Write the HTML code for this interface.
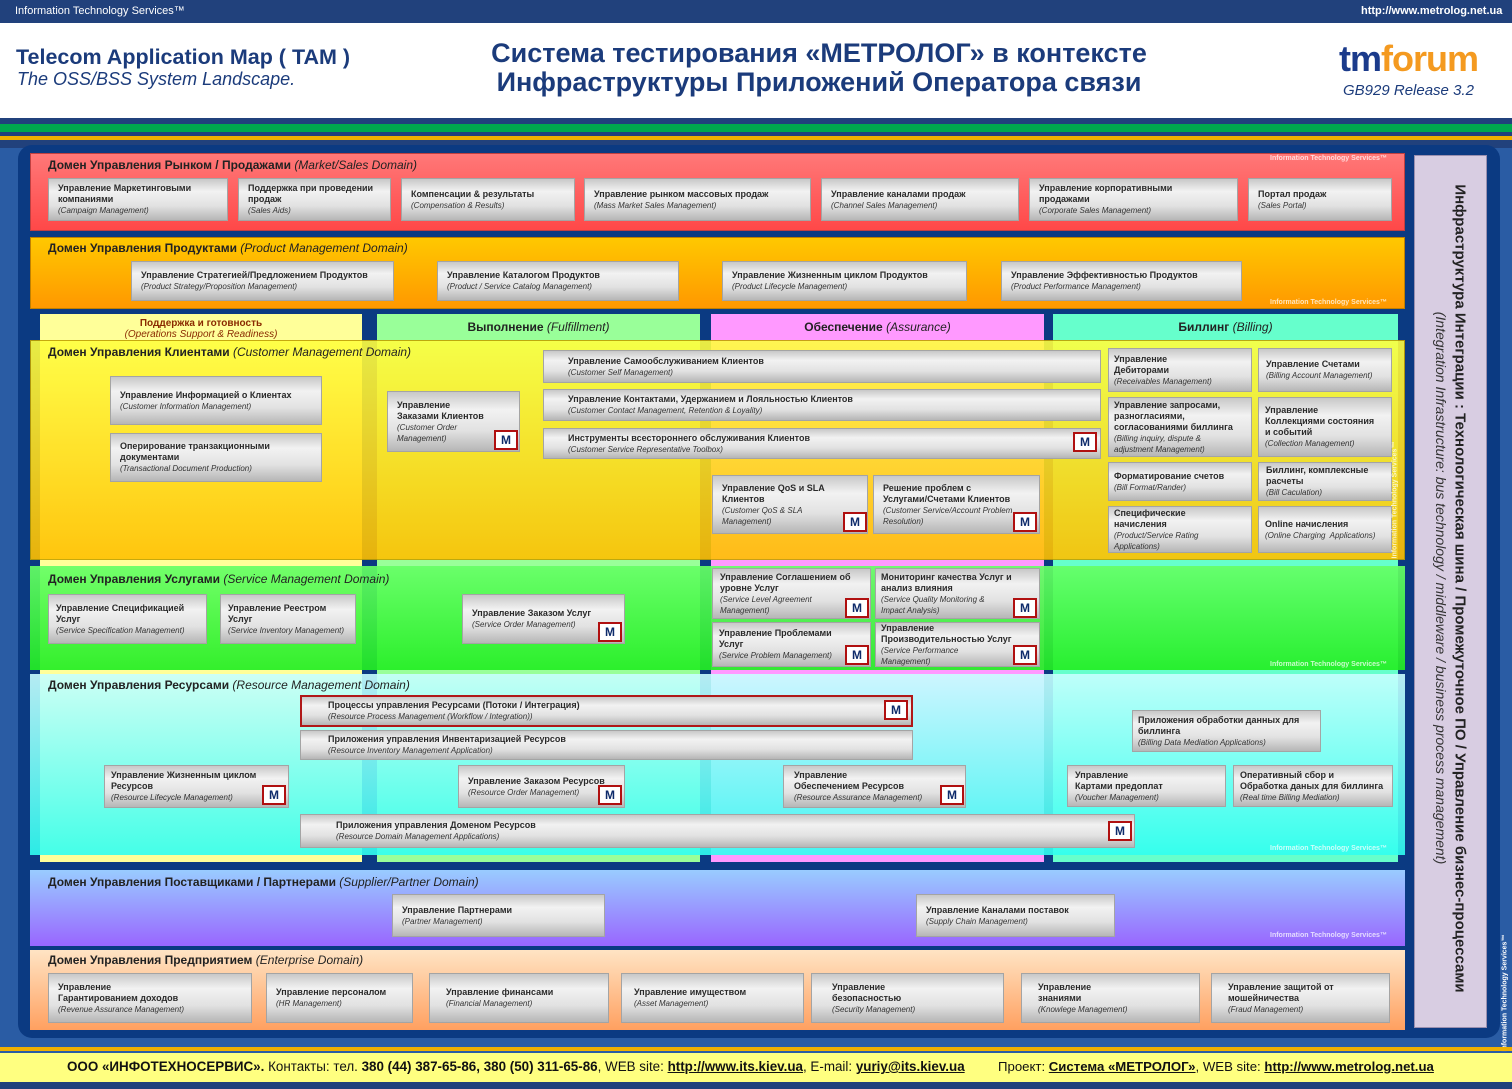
<!DOCTYPE html>
<html><head><meta charset="utf-8">
<style>
*{margin:0;padding:0;box-sizing:border-box}
body{width:1512px;height:1089px;position:relative;overflow:hidden;background:#2a5ca4;font-family:"Liberation Sans","DejaVu Sans",sans-serif}
.a{position:absolute}
.b{position:absolute;background:linear-gradient(#c8c8c8,#f2f2f2 30%,#e2e2e2 65%,#b6b6b6);border:1px solid #a4a4a4;font-size:9px;font-weight:bold;color:#2a2a2a;padding:4px 9px;line-height:11px;display:flex;flex-direction:column;justify-content:center}
.b i{font-weight:normal;font-size:8px;color:#333;line-height:11px}
.m{position:absolute;width:24px;height:20px;background:#fff;border:2px solid #b01010;color:#0d2a6a;font-weight:bold;font-size:12px;text-align:center;line-height:16px}
.dt{position:absolute;font-size:12px;font-weight:bold;color:#222}
.dt i{font-weight:normal}
.its{position:absolute;font-size:7px;font-weight:bold;color:rgba(255,255,255,.75)}
</style></head><body>
<!-- top -->
<div class="a" style="left:0;top:0;width:1512px;height:23px;background:#21417c"></div>
<div class="a" style="left:15px;top:5px;font-size:11px;color:#fff">Information Technology Services™</div>
<div class="a" style="left:1361px;top:5px;font-size:11px;color:#fff;font-weight:bold">http://www.metrolog.net.ua</div>
<div class="a" style="left:0;top:23px;width:1512px;height:95px;background:#fff"></div>
<div class="a" style="left:16px;top:45px;font-size:21.5px;font-weight:bold;color:#1b3b7b">Telecom Application Map ( TAM )</div>
<div class="a" style="left:17px;top:69px;font-size:18px;font-style:italic;color:#1b3b7b">The OSS/BSS System Landscape.</div>
<div class="a" style="left:440px;top:39px;width:758px;text-align:center;font-size:27px;font-weight:bold;color:#1b3b7b;line-height:29px">Система тестирования «МЕТРОЛОГ» в контексте<br>Инфраструктуры Приложений Оператора связи</div>
<div class="a" style="left:1339px;top:38px;font-size:36px;font-weight:bold;letter-spacing:-1px"><span style="color:#1b3b8b">tm</span><span style="color:#f49a20">forum</span></div>
<div class="a" style="left:1343px;top:82px;font-size:15px;font-style:italic;color:#1b3b7b">GB929 Release 3.2</div>
<div class="a" style="left:0;top:118px;width:1512px;height:30px;background:#21417c"></div>
<div class="a" style="left:0;top:124px;width:1512px;height:8px;background:#00a84e"></div>
<div class="a" style="left:0;top:136px;width:1512px;height:4px;background:#f0b000"></div>
<div class="a" style="left:0;top:148px;width:1512px;height:900px;background:#2a5ca4"></div>
<div class="a" style="left:18px;top:145px;width:1482px;height:893px;background:#0b3a82;border-radius:14px"></div>

<!-- column strips -->
<div class="a" style="left:40px;top:314px;width:322px;height:548px;background:#ffff99"></div>
<div class="a" style="left:377px;top:314px;width:323px;height:548px;background:#99ff99"></div>
<div class="a" style="left:711px;top:314px;width:333px;height:548px;background:#ff99ff"></div>
<div class="a" style="left:1053px;top:314px;width:345px;height:548px;background:#66ffcc"></div>
<div class="a" style="left:40px;top:318px;width:322px;text-align:center;font-size:10px;line-height:11px;color:#8a2a00;font-weight:bold">Поддержка и готовность<br><i style="font-weight:normal">(Operations Support &amp; Readiness)</i></div>
<div class="dt" style="left:377px;top:320px;width:323px;text-align:center">Выполнение <i>(Fulfillment)</i></div>
<div class="dt" style="left:711px;top:320px;width:333px;text-align:center">Обеспечение <i>(Assurance)</i></div>
<div class="dt" style="left:1053px;top:320px;width:345px;text-align:center">Биллинг <i>(Billing)</i></div>

<!-- domains -->
<div class="a" style="left:30px;top:153px;width:1375px;height:78px;background:linear-gradient(#ff7878,#ff4848);border:1px solid #c04040"></div>
<div class="dt" style="left:48px;top:158px">Домен Управления Рынком / Продажами <i>(Market/Sales Domain)</i></div>
<div class="its" style="left:1270px;top:155px">Information Technology Services™</div>
<div class="a" style="left:30px;top:237px;width:1375px;height:72px;background:linear-gradient(#ffc800,#ff9800);border:1px solid #c08000"></div>
<div class="dt" style="left:48px;top:241px">Домен Управления Продуктами <i>(Product Management Domain)</i></div>
<div class="its" style="left:1270px;top:299px">Information Technology Services™</div>

<div class="a" style="left:30px;top:340px;width:1375px;height:220px;background:linear-gradient(#ffff40,#ffc000);opacity:.9;border:1px solid #c0a000"></div>
<div class="dt" style="left:48px;top:345px">Домен Управления Клиентами <i>(Customer Management Domain)</i></div>
<div class="a" style="left:30px;top:566px;width:1375px;height:104px;background:linear-gradient(#66ff66,#22ee22);opacity:.92"></div>
<div class="dt" style="left:48px;top:572px">Домен Управления Услугами <i>(Service Management Domain)</i></div>
<div class="its" style="left:1270px;top:661px">Information Technology Services™</div>
<div class="a" style="left:30px;top:674px;width:1375px;height:181px;background:linear-gradient(#c8ffff,#30fff0);opacity:.9"></div>
<div class="dt" style="left:48px;top:678px">Домен Управления Ресурсами <i>(Resource Management Domain)</i></div>
<div class="its" style="left:1270px;top:845px">Information Technology Services™</div>
<div class="a" style="left:30px;top:870px;width:1375px;height:76px;background:linear-gradient(#99ccff,#9966ff)"></div>
<div class="dt" style="left:48px;top:875px">Домен Управления Поставщиками / Партнерами <i>(Supplier/Partner Domain)</i></div>
<div class="its" style="left:1270px;top:932px">Information Technology Services™</div>
<div class="a" style="left:30px;top:950px;width:1375px;height:80px;background:linear-gradient(#ffe4c4,#ffa060)"></div>
<div class="dt" style="left:48px;top:953px">Домен Управления Предприятием <i>(Enterprise Domain)</i></div>

<!-- right panel -->
<div class="a" style="left:1414px;top:155px;width:73px;height:873px;background:#d8cde2;border:1px solid #9a90b0"></div>
<div class="a" style="left:1460px;top:580px;width:860px;margin-left:-430px;transform:rotate(90deg);text-align:center;font-size:15px;font-weight:bold;color:#222;white-space:nowrap">Инфраструктура Интеграции : Технологическая шина / Промежуточное ПО / Управление бизнес-процессами</div>
<div class="a" style="left:1441px;top:580px;width:860px;margin-left:-430px;transform:rotate(90deg);text-align:center;font-size:14px;font-style:italic;color:#333;white-space:nowrap">(Integration Infrastructure: bus technology / middleware / business process management)</div>
<div class="a" style="left:1505px;top:978px;width:140px;margin-left:-70px;transform:rotate(-90deg);font-size:7px;color:#fff;font-weight:bold;white-space:nowrap">Information Technology Services™</div>

<!-- market boxes -->
<div class="b" style="left:48px;top:178px;width:180px;height:43px">Управление Маркетинговыми компаниями<i>(Campaign Management)</i></div>
<div class="b" style="left:238px;top:178px;width:153px;height:43px">Поддержка при проведении продаж<i>(Sales Aids)</i></div>
<div class="b" style="left:401px;top:178px;width:174px;height:43px">Компенсации &amp; результаты<i>(Compensation &amp; Results)</i></div>
<div class="b" style="left:584px;top:178px;width:227px;height:43px">Управление рынком массовых продаж<i>(Mass Market Sales Management)</i></div>
<div class="b" style="left:821px;top:178px;width:198px;height:43px">Управление каналами продаж<i>(Channel Sales Management)</i></div>
<div class="b" style="left:1029px;top:178px;width:209px;height:43px">Управление корпоративными<br>продажами<i>(Corporate Sales Management)</i></div>
<div class="b" style="left:1248px;top:178px;width:144px;height:43px">Портал продаж<i>(Sales Portal)</i></div>

<!-- product boxes -->
<div class="b" style="left:131px;top:261px;width:263px;height:40px">Управление Стратегией/Предложением Продуктов<i>(Product Strategy/Proposition Management)</i></div>
<div class="b" style="left:437px;top:261px;width:242px;height:40px">Управление Каталогом Продуктов<i>(Product / Service Catalog Management)</i></div>
<div class="b" style="left:722px;top:261px;width:245px;height:40px">Управление Жизненным циклом Продуктов<i>(Product Lifecycle Management)</i></div>
<div class="b" style="left:1001px;top:261px;width:241px;height:40px">Управление Эффективностью Продуктов<i>(Product Performance Management)</i></div>

<!-- customer -->
<div class="b" style="left:110px;top:376px;width:212px;height:49px">Управление Информацией о Клиентах<i>(Customer Information Management)</i></div>
<div class="b" style="left:110px;top:433px;width:212px;height:49px">Оперирование транзакционными документами<i>(Transactional Document Production)</i></div>
<div class="b" style="left:387px;top:391px;width:133px;height:61px;justify-content:flex-start;padding-top:8px">Управление<br>Заказами Клиентов<i>(Customer Order<br>Management)</i></div>
<div class="m" style="left:494px;top:430px">M</div>
<div class="b" style="left:543px;top:350px;width:558px;height:33px;padding-left:24px">Управление Самообслуживанием Клиентов<i>(Customer Self Management)</i></div>
<div class="b" style="left:543px;top:389px;width:558px;height:32px;padding-left:24px">Управление Контактами, Удержанием и Лояльностью Клиентов<i>(Customer Contact Management, Retention &amp; Loyality)</i></div>
<div class="b" style="left:543px;top:428px;width:558px;height:31px;padding-left:24px">Инструменты всестороннего обслуживания Клиентов<i>(Customer Service Representative Toolbox)</i></div>
<div class="m" style="left:1073px;top:432px">M</div>
<div class="b" style="left:712px;top:475px;width:156px;height:59px;padding-right:30px">Управление QoS и SLA Клиентов<i>(Customer QoS &amp; SLA Management)</i></div>
<div class="m" style="left:843px;top:512px">M</div>
<div class="b" style="left:873px;top:475px;width:167px;height:59px;padding-right:8px">Решение проблем с<br>Услугами/Счетами Клиентов<i>(Customer Service/Account Problem Resolution)</i></div>
<div class="m" style="left:1013px;top:512px">M</div>
<div class="b" style="left:1108px;top:348px;width:144px;height:44px;padding-left:5px">Управление<br>Дебиторами<i>(Receivables Management)</i></div>
<div class="b" style="left:1258px;top:348px;width:134px;height:44px;padding-left:7px">Управление Счетами<i>(Billing Account Management)</i></div>
<div class="b" style="left:1108px;top:397px;width:144px;height:60px;padding-left:5px">Управление запросами, разногласиями, согласованиями биллинга<i>(Billing inquiry, dispute &amp; adjustment Management)</i></div>
<div class="b" style="left:1258px;top:397px;width:134px;height:60px;padding-left:6px">Управление<br>Коллекциями состояния и событий<i>(Collection Management)</i></div>
<div class="b" style="left:1108px;top:462px;width:144px;height:39px;padding-left:5px">Форматирование счетов<i>(Bill Format/Rander)</i></div>
<div class="b" style="left:1258px;top:462px;width:134px;height:39px;padding-left:7px">Биллинг, комплексные расчеты<i>(Bill Caculation)</i></div>
<div class="b" style="left:1108px;top:506px;width:144px;height:47px;padding-left:5px">Специфические<br>начисления<i>(Product/Service Rating Applications)</i></div>
<div class="b" style="left:1258px;top:506px;width:134px;height:47px;padding-left:6px">Online начисления<i>(Online Charging&nbsp; Applications)</i></div>
<div class="its" style="left:1390px;top:480px;transform:rotate(-90deg);white-space:nowrap;width:150px;margin-left:-70px">Information Technology Services™</div>

<!-- service -->
<div class="b" style="left:48px;top:594px;width:159px;height:50px;padding-left:7px">Управление Спецификацией Услуг<i>(Service Specification Management)</i></div>
<div class="b" style="left:220px;top:594px;width:136px;height:50px;padding-left:7px">Управление Реестром Услуг<i>(Service Inventory Management)</i></div>
<div class="b" style="left:462px;top:594px;width:163px;height:50px;padding-right:30px">Управление Заказом Услуг<i>(Service Order Management)</i></div>
<div class="m" style="left:598px;top:622px">M</div>
<div class="b" style="left:712px;top:568px;width:159px;height:51px;padding:2px 12px 2px 7px">Управление Соглашением об уровне Услуг<i>(Service Level Agreement<br>Management)</i></div>
<div class="m" style="left:845px;top:598px">M</div>
<div class="b" style="left:875px;top:568px;width:165px;height:51px;padding:2px 8px 2px 5px">Мониторинг качества Услуг и анализ влияния<i>(Service Quality Monitoring &amp;<br>Impact Analysis)</i></div>
<div class="m" style="left:1013px;top:598px">M</div>
<div class="b" style="left:712px;top:622px;width:159px;height:45px;padding:1px 30px 1px 6px">Управление Проблемами Услуг<i>(Service Problem Management)</i></div>
<div class="m" style="left:845px;top:645px">M</div>
<div class="b" style="left:875px;top:622px;width:165px;height:45px;padding:1px 8px 1px 5px">Управление Производительностью Услуг<i>(Service Performance<br>Management)</i></div>
<div class="m" style="left:1013px;top:645px">M</div>

<!-- resource -->
<div class="b" style="left:300px;top:695px;width:613px;height:32px;border:2px solid #b01818;padding-left:26px">Процессы управления Ресурсами (Потоки / Интеграция)<i>(Resource Process Management (Workflow / Integration))</i></div>
<div class="m" style="left:884px;top:700px">M</div>
<div class="b" style="left:300px;top:730px;width:613px;height:30px;padding-left:27px">Приложения управления Инвентаризацией Ресурсов<i>(Resource Inventory Management Application)</i></div>
<div class="b" style="left:104px;top:765px;width:185px;height:43px;padding-left:6px">Управление Жизненным циклом Ресурсов<i>(Resource Lifecycle Management)</i></div>
<div class="m" style="left:262px;top:785px">M</div>
<div class="b" style="left:458px;top:765px;width:167px;height:43px;padding-left:9px">Управление Заказом Ресурсов<i>(Resource Order Management)</i></div>
<div class="m" style="left:598px;top:785px">M</div>
<div class="b" style="left:783px;top:765px;width:183px;height:43px;padding-left:10px">Управление<br>Обеспечением Ресурсов<i>(Resource Assurance Management)</i></div>
<div class="m" style="left:940px;top:785px">M</div>
<div class="b" style="left:300px;top:814px;width:835px;height:34px;padding-left:35px">Приложения управления Доменом Ресурсов<i>(Resource Domain Management Applications)</i></div>
<div class="m" style="left:1108px;top:821px">M</div>
<div class="b" style="left:1132px;top:710px;width:189px;height:42px;padding-left:5px">Приложения обработки данных для биллинга<i>(Billing Data Mediation Applications)</i></div>
<div class="b" style="left:1067px;top:765px;width:159px;height:42px;padding-left:7px">Управление<br>Картами предоплат<i>(Voucher Management)</i></div>
<div class="b" style="left:1233px;top:765px;width:160px;height:42px;padding-left:6px;white-space:nowrap">Оперативный сбор и<br>Обработка даных для биллинга<i>(Real time Billing Mediation)</i></div>

<!-- supplier -->
<div class="b" style="left:392px;top:894px;width:213px;height:43px">Управление Партнерами<i>(Partner Management)</i></div>
<div class="b" style="left:916px;top:894px;width:199px;height:43px">Управление Каналами поставок<i>(Supply Chain Management)</i></div>

<!-- enterprise -->
<div class="b" style="left:48px;top:973px;width:204px;height:50px">Управление<br>Гарантированием доходов<i>(Revenue Assurance Management)</i></div>
<div class="b" style="left:266px;top:973px;width:147px;height:50px">Управление персоналом<i>(HR Management)</i></div>
<div class="b" style="left:429px;top:973px;width:180px;height:50px;padding-left:16px">Управление финансами<i>(Financial Management)</i></div>
<div class="b" style="left:621px;top:973px;width:183px;height:50px;padding-left:12px">Управление имуществом<i>(Asset Management)</i></div>
<div class="b" style="left:811px;top:973px;width:193px;height:50px;padding-left:20px">Управление<br>безопасностью<i>(Security Management)</i></div>
<div class="b" style="left:1021px;top:973px;width:179px;height:50px;padding-left:16px">Управление<br>знаниями<i>(Knowlege Management)</i></div>
<div class="b" style="left:1211px;top:973px;width:179px;height:50px;padding-left:16px">Управление защитой от мошейничества<i>(Fraud Management)</i></div>

<!-- footer -->
<div class="a" style="left:0;top:1047px;width:1512px;height:4px;background:#f0b000"></div>
<div class="a" style="left:0;top:1053px;width:1512px;height:29px;background:#ffff80"></div>
<div class="a" style="left:0;top:1082px;width:1512px;height:7px;background:#21417c"></div>
<div class="a" style="left:67px;top:1059px;font-size:13.4px;color:#111;white-space:nowrap"><b>ООО «ИНФОТЕХНОСЕРВИС».</b> Контакты: тел. <b>380 (44) 387-65-86, 380 (50) 311-65-86</b>, WEB site: <b><u>http://www.its.kiev.ua</u></b>, E-mail: <b><u>yuriy@its.kiev.ua</u></b></div>
<div class="a" style="left:998px;top:1059px;font-size:13.2px;color:#111;white-space:nowrap">Проект: <b><u>Система «МЕТРОЛОГ»</u></b>, WEB site: <b><u>http://www.metrolog.net.ua</u></b></div>
</body></html>
